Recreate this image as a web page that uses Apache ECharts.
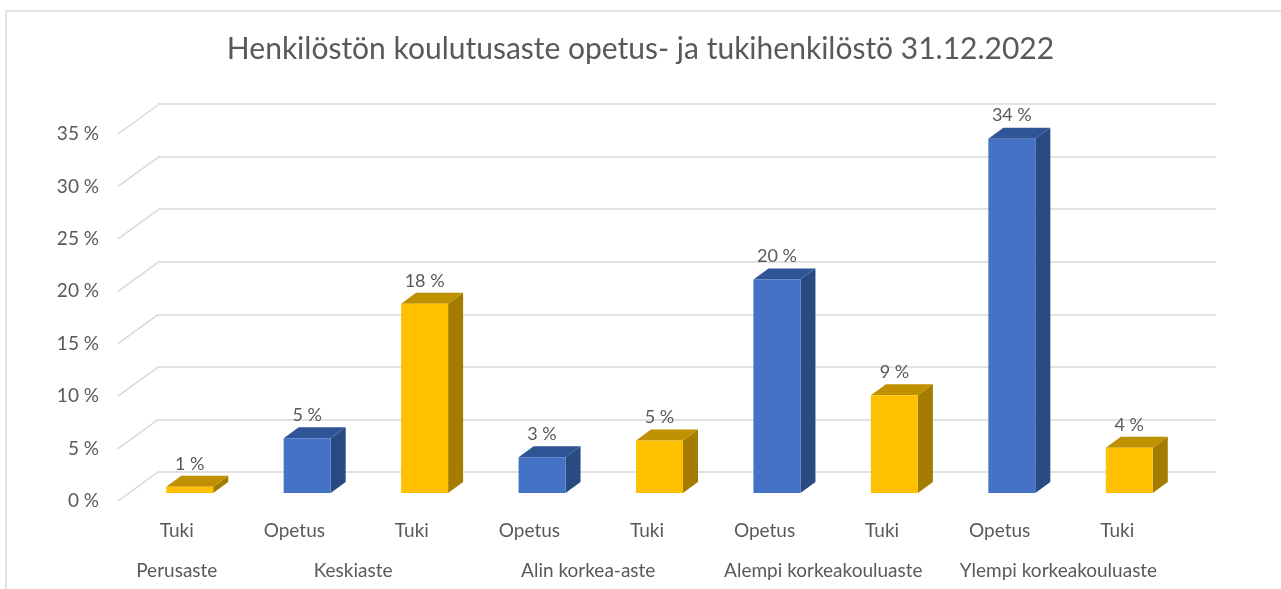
<!DOCTYPE html>
<html>
<head>
<meta charset="utf-8">
<script src="https://cdn.jsdelivr.net/npm/echarts@6/dist/echarts.min.js"></script>
<style>
  html, body { margin: 0; padding: 0; background: #fff; }
  #chart { width: 1281px; height: 589px; }
</style>
</head>
<body>
<div id="chart"></div>
<script>
// tiedot
var categories = ['Tuki', 'Opetus', 'Tuki', 'Opetus', 'Tuki', 'Opetus', 'Tuki', 'Opetus', 'Tuki'];
var values = [0.6, 5.2, 18.0, 3.4, 5.0, 20.3, 9.3, 33.7, 4.3];
var groups = ['Perusaste', 'Keskiaste', 'Alin korkea-aste', 'Alempi korkeakouluaste', 'Ylempi korkeakouluaste'];
var groupPos = [0.5, 2, 4, 6, 8]; // ryhmän keskikohta luokka-akselilla
var yTicks = [0, 5, 10, 15, 20, 25, 30, 35];

var textColor = '#595959';
var gridColor = '#d9d9d9';
var font = 'Lato';
var colors = {
  Opetus: { front: '#4472C4', top: '#2F5597', side: '#284A82' },
  Tuki: { front: '#FFC000', top: '#BF9000', side: '#A37C00' }
};
var DX = 15, DY = -11; // pylvään syvyys
var WALL_DX = 40, WALL_DY = -29; // takaseinän siirtymä
var BAR_W = 47;

var myChart = echarts.init(document.getElementById('chart'));

var option = {
  backgroundColor: '#fff',
  animation: false,
  title: {
    text: 'Henkilöstön koulutusaste opetus- ja tukihenkilöstö 31.12.2022',
    left: 'center',
    top: 29,
    textStyle: { color: textColor, fontFamily: font, fontSize: 30, fontWeight: 'normal' }
  },
  graphic: [{
    type: 'rect',
    shape: { x: 6, y: 11, width: 1400, height: 700 },
    style: { fill: null, stroke: gridColor, lineWidth: 1.5 },
    silent: true
  }],
  grid: [
    // takaseinä
    { left: 158, width: 1058, top: 104, bottom: 117 },
    // etureuna + tekstit
    { left: 118, width: 1058, top: 134, bottom: 88 },
    // pylväät
    { left: 131, width: 1057, top: 125, bottom: 96 }
  ],
  xAxis: [
    { gridIndex: 0, type: 'value', min: 0, max: 9, show: false },
    {
      gridIndex: 1, type: 'category', data: categories, position: 'bottom',
      axisLine: { show: false }, axisTick: { show: false },
      axisLabel: { color: textColor, fontFamily: font, fontSize: 19, margin: 20 }
    },
    {
      gridIndex: 1, type: 'value', min: 0, max: 9, interval: 0.5, position: 'bottom',
      axisLine: { show: false }, axisTick: { show: false }, splitLine: { show: false },
      axisLabel: {
        color: textColor, fontFamily: font, fontSize: 19, margin: 60,
        showMinLabel: true, showMaxLabel: true,
        formatter: function (v) {
          var i = groupPos.indexOf(v);
          return i >= 0 ? groups[i] : '';
        }
      }
    },
    { gridIndex: 2, type: 'category', data: categories, show: false }
  ],
  yAxis: [
    {
      gridIndex: 0, type: 'value', min: 0, max: 35, interval: 5,
      axisLine: { show: false }, axisTick: { show: false }, axisLabel: { show: false },
      splitLine: { lineStyle: { color: gridColor, width: 1.5 } }
    },
    {
      gridIndex: 1, type: 'value', min: 0, max: 35, interval: 5,
      axisLine: { show: false }, axisTick: { show: false }, splitLine: { show: false },
      axisLabel: { color: textColor, fontFamily: font, fontSize: 19, margin: 19, formatter: '{value} %' }
    },
    { gridIndex: 2, type: 'value', min: 0, max: 35, show: false }
  ],
  series: [
    {
      // vinot viivat etureunasta takaseinään
      type: 'custom',
      xAxisIndex: 2, yAxisIndex: 1,
      silent: true,
      data: yTicks.map(function (t) { return [0, t]; }),
      renderItem: function (params, api) {
        var p = api.coord([api.value(0), api.value(1)]);
        return {
          type: 'line',
          shape: { x1: p[0], y1: p[1], x2: p[0] + WALL_DX, y2: p[1] + WALL_DY },
          style: { stroke: gridColor, lineWidth: 1.5 }
        };
      }
    },
    {
      // 3D-pylväät
      type: 'custom',
      xAxisIndex: 3, yAxisIndex: 2,
      data: values.map(function (v, i) { return [i, v]; }),
      renderItem: function (params, api) {
        var i = api.value(0), v = api.value(1);
        var base = api.coord([i, 0]);
        var top = api.coord([i, v]);
        var c = colors[categories[i]];
        var l = base[0] - BAR_W / 2, r = base[0] + BAR_W / 2;
        var ty = top[1], by = base[1];
        return {
          type: 'group',
          children: [
            {
              type: 'polygon',
              shape: { points: [[r, ty], [r + DX, ty + DY], [r + DX, by + DY], [r, by]] },
              style: { fill: c.side }
            },
            {
              type: 'polygon',
              shape: { points: [[l, ty], [r, ty], [r + DX, ty + DY], [l + DX, ty + DY]] },
              style: { fill: c.top }
            },
            {
              type: 'rect',
              shape: { x: l, y: ty, width: BAR_W, height: by - ty },
              style: { fill: c.front }
            },
            {
              type: 'text',
              style: {
                x: base[0], y: ty - 23,
                text: Math.round(v) + ' %',
                align: 'center', verticalAlign: 'middle',
                fill: textColor, font: '18px ' + font
              }
            }
          ]
        };
      }
    }
  ]
};

myChart.setOption(option);
</script>
</body>
</html>
